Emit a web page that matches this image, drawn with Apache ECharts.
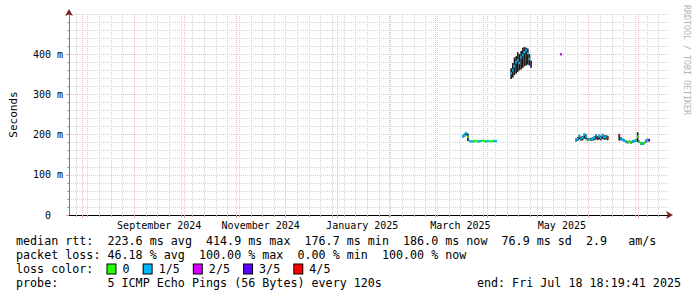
<!DOCTYPE html>
<html><head><meta charset="utf-8">
<script src="https://cdn.jsdelivr.net/npm/echarts@6/dist/echarts.min.js"></script>
<style>html,body{margin:0;padding:0;background:#fff}#chart{width:697px;height:297px}</style>
</head><body><div id="chart"></div>
<script>
const DAY = 86400000;
const END_TIME = Date.UTC(2025, 6, 18, 18, 19, 41);
const START_TIME = END_TIME - 360 * DAY;

// x axis labels (centered half a month after the month start, as rrdtool does)
const xTickLabels = ['September 2024', 'November 2024', 'January 2025', 'March 2025', 'May 2025'];
const xTickLabelDates = ['2024-09-16', '2024-11-16', '2025-01-16', '2025-03-16', '2025-05-16'];
// y axis labels (milliseconds)
const yTickValues = [0, 100, 200, 300, 400];
const yTickLabels = ['0  ', '100 m', '200 m', '300 m', '400 m'];

const lossLabels = ['0', '1/5', '2/5', '3/5', '4/5'];
const lossColors = ['#26ff00', '#00b8ff', '#d600ff', '#5e00ff', '#ff0000'];

// samples (one per day)
const sampleDates = [
  '2025-03-17','2025-03-18','2025-03-19','2025-03-20','2025-03-21','2025-03-22','2025-03-23','2025-03-24','2025-03-25','2025-03-26',
  '2025-03-27','2025-03-28','2025-03-29','2025-03-30','2025-03-31','2025-04-01','2025-04-02','2025-04-03','2025-04-04','2025-04-05','2025-04-06',
  '2025-04-15','2025-04-16','2025-04-17','2025-04-18','2025-04-19','2025-04-20','2025-04-21','2025-04-22','2025-04-23','2025-04-24',
  '2025-04-25','2025-04-26','2025-04-27',
  '2025-05-15',
  '2025-05-24','2025-05-25','2025-05-26','2025-05-27','2025-05-28','2025-05-29','2025-05-30','2025-05-31','2025-06-01','2025-06-02',
  '2025-06-03','2025-06-04','2025-06-05','2025-06-06','2025-06-07','2025-06-08','2025-06-09','2025-06-10','2025-06-11','2025-06-12',
  '2025-06-19','2025-06-20','2025-06-21','2025-06-22','2025-06-23','2025-06-24','2025-06-25','2025-06-26','2025-06-27','2025-06-28',
  '2025-06-29','2025-06-30','2025-07-01','2025-07-02','2025-07-03','2025-07-04','2025-07-05','2025-07-06','2025-07-07'
];
const medianMs = [
  196,199,204,195,184,183,183,184,184,183,184,184,185,184,183,184,184,183,184,184,184,
  352,360,370,380,385,378,392,398,405,410,402,388,372,
  400,
  186,190,196,190,192,200,195,188,187,188,189,192,198,190,196,192,198,193,195,192,
  198,190,187,185,183,181,182,180,183,184,185,195,182,178,177,179,184,187,186
];
const smokeLowMs = [
  193,195,198,184,183,182,182,183,183,182,183,183,184,183,182,183,183,182,183,183,183,
  338,342,348,352,356,360,362,366,370,372,374,372,366,
  398,
  183,185,188,185,186,190,188,184,184,185,185,186,188,186,188,186,189,187,188,186,
  185,186,184,182,180,178,179,177,180,181,182,182,179,175,174,176,180,183,183
];
const smokeHighMs = [
  199,203,206,203,185,184,184,185,185,184,185,185,186,185,184,185,185,184,185,185,185,
  365,378,392,395,405,400,408,416,418,416,414,400,384,
  401,
  190,194,200,195,196,203,200,192,191,192,193,196,201,196,200,197,202,198,199,197,
  202,194,190,188,186,184,185,183,186,187,188,206,185,181,180,182,187,190,189
];
const lossCount = [
  1,1,1,0,1,1,1,0,0,1,1,1,0,0,1,1,0,0,0,1,1,
  1,1,1,1,1,1,1,1,1,1,1,1,3,
  2,
  1,1,1,1,1,1,1,1,0,1,1,1,1,4,1,1,1,1,1,4,
  4,1,1,1,0,1,0,0,1,1,0,0,1,0,1,0,1,1,3
];

const statsLine1 = 'median rtt:  223.6 ms avg  414.9 ms max  176.7 ms min  186.0 ms now  76.9 ms sd  2.9   am/s';
const statsLine2 = 'packet loss: 46.18 % avg  100.00 % max  0.00 % min  100.00 % now';
const probeLine = 'probe:       5 ICMP Echo Pings (56 Bytes) every 120s';
const endLine = 'end: Fri Jul 18 18:19:41 2025';

// grid positions
const weekTicks = [];
for (let t = Date.UTC(2024, 6, 28); t <= END_TIME; t += 7 * DAY) weekTicks.push(t);
const monthTicks = [];
for (let y = 2024, m = 7; Date.UTC(y, m, 1) <= END_TIME; m++) {
  if (m > 11) { m = 0; y++; }
  monthTicks.push(Date.UTC(y, m, 1));
}
const labelTimes = xTickLabelDates.map(d => Date.parse(d));

const data = sampleDates.map((d, i) => [Date.parse(d), medianMs[i], smokeLowMs[i], smokeHighMs[i], lossCount[i]]);

const MONO = '"DejaVu Sans Mono", monospace';
const LEGEND_FONT = '11.7px ' + MONO;
const chart = echarts.init(document.getElementById('chart'), null, {renderer: 'svg'});

let legendRich = 'loss color:  ';
const rich = {};
lossLabels.forEach((l, i) => {
  legendRich += '{b' + i + '| } ' + l + '  ';
  rich['b' + i] = {backgroundColor: lossColors[i], borderColor: '#000', borderWidth: 1, width: 8, height: 9};
});

chart.setOption({
  animation: false,
  backgroundColor: '#fff',
  grid: {left: 66, right: 29, top: 14, bottom: 82, containLabel: false},
  xAxis: [
    {type: 'value', min: START_TIME, max: END_TIME, position: 'bottom',
      axisLine: {show: true, lineStyle: {color: '#7f1f1f', width: 1}, symbol: ['none', 'arrow'], symbolSize: [6, 7], symbolOffset: [0, 5]},
      axisTick: {show: true, customValues: weekTicks, length: 2, lineStyle: {color: '#aaa'}},
      axisLabel: {show: false},
      splitLine: {show: true, lineStyle: {color: '#d4d4d4', type: [1, 1], width: 1}}},
    {type: 'value', min: START_TIME, max: END_TIME, position: 'bottom',
      axisLine: {show: true, lineStyle: {color: '#000', width: 1}},
      axisTick: {show: true, customValues: monthTicks, length: 3, lineStyle: {color: '#eaa0a0'}},
      axisLabel: {show: true, customValues: labelTimes, margin: 5, color: '#000', fontFamily: MONO, fontSize: 10,
        formatter: v => {
          let best = 0;
          labelTimes.forEach((t, i) => { if (Math.abs(t - v) < Math.abs(labelTimes[best] - v)) best = i; });
          return xTickLabels[best];
        }},
      splitLine: {show: true, lineStyle: {color: '#f5bcbc', type: [1, 1], width: 1}}}
  ],
  yAxis: [
    {type: 'value', min: 0, max: 500, interval: 20, position: 'left',
      axisLine: {show: true, lineStyle: {color: '#7f1f1f', width: 1}, symbol: ['none', 'arrow'], symbolSize: [6, 7], symbolOffset: [0, 5]},
      axisTick: {show: true, length: 2, lineStyle: {color: '#aaa'}},
      axisLabel: {show: false},
      splitLine: {show: true, lineStyle: {color: '#d4d4d4', type: [1, 1], width: 1}}},
    {type: 'value', min: 0, max: 500, interval: 100, position: 'left',
      name: 'Seconds', nameLocation: 'middle', nameGap: 50, nameRotate: 90,
      nameTextStyle: {fontFamily: MONO, fontSize: 11, color: '#000'},
      axisLine: {show: true, lineStyle: {color: '#777', width: 1}},
      axisTick: {show: true, customValues: yTickValues, length: 3, lineStyle: {color: '#eaa0a0'}},
      axisLabel: {show: true, customValues: yTickValues, margin: 6, color: '#000', fontFamily: MONO, fontSize: 10,
        formatter: v => yTickLabels[yTickValues.indexOf(Math.round(v))]},
      splitLine: {show: true, lineStyle: {color: '#f5bcbc', type: [1, 1], width: 1}}}
  ],
  series: [{
    type: 'custom', xAxisIndex: 0, yAxisIndex: 0, clip: true, z: 5,
    data: data,
    encode: {x: 0, y: [1, 2, 3]},
    renderItem: (params, api) => {
      const t = api.value(0);
      const x0 = api.coord([t, 0])[0];
      const x1 = api.coord([t + DAY, 0])[0];
      const yMed = api.coord([t, api.value(1)])[1];
      const yLo = api.coord([t, api.value(2)])[1];
      const yHi = api.coord([t, api.value(3)])[1];
      return {type: 'group', children: [
        {type: 'rect', shape: {x: x0, y: yHi, width: x1 - x0, height: yLo - yHi}, style: {fill: '#1c1c1c'}},
        {type: 'rect', shape: {x: x0, y: yMed - 1.2, width: x1 - x0, height: 2.4}, style: {fill: lossColors[api.value(4)]}}
      ]};
    }
  }],
  graphic: [
    {type: 'text', x: 16, y: 241, style: {text: statsLine1, font: LEGEND_FONT, fill: '#000', align: 'left', verticalAlign: 'middle'}},
    {type: 'text', x: 16, y: 255, style: {text: statsLine2, font: LEGEND_FONT, fill: '#000', align: 'left', verticalAlign: 'middle'}},
    {type: 'text', x: 16, y: 269, style: {text: legendRich, rich: rich, font: LEGEND_FONT, fill: '#000', align: 'left', verticalAlign: 'middle'}},
    {type: 'text', x: 16, y: 283, style: {text: probeLine, font: LEGEND_FONT, fill: '#000', align: 'left', verticalAlign: 'middle'}},
    {type: 'text', x: 681, y: 283, style: {text: endLine, font: LEGEND_FONT, fill: '#000', align: 'right', verticalAlign: 'middle'}},
    {type: 'text', x: 687, y: 60, rotation: -Math.PI / 2, style: {text: 'RRDTOOL / TOBI OETIKER', font: '8.3px ' + MONO, fill: '#b4b4b4', align: 'center', verticalAlign: 'middle'}}
  ]
});
</script></body></html>
